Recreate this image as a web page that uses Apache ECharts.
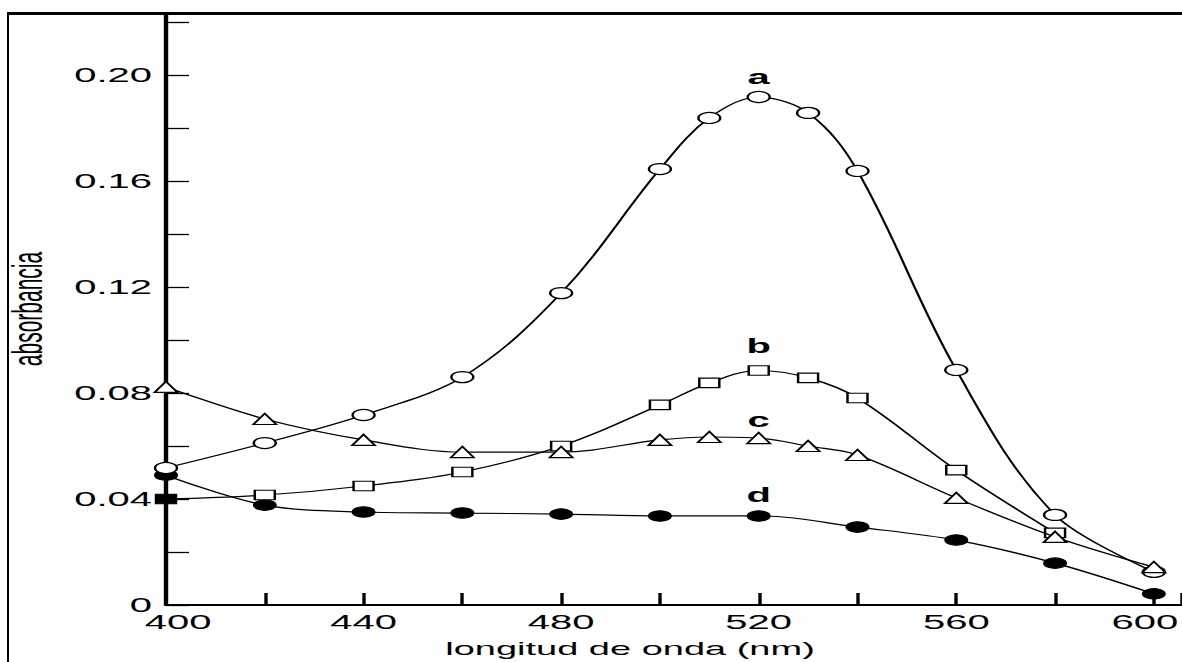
<!DOCTYPE html>
<html>
<head>
<meta charset="utf-8">
<script src="https://cdn.jsdelivr.net/npm/echarts@6/dist/echarts.min.js"></script>
<style>
  html, body { margin: 0; padding: 0; background: #fff; overflow: hidden; width: 1182px; height: 662px; }
  #frame { position: absolute; left: 7px; top: 12px; width: 1300px; height: 800px;
           border-left: 2px solid #000; border-top: 3px solid #000; box-sizing: border-box; }
  #chart { position: absolute; left: 0; top: 0; width: 591px; height: 662px;
           transform: scale(2, 1); transform-origin: 0 0; }
</style>
</head>
<body>
<div id="frame"></div>
<div id="chart"></div>
<script>
// Wavelengths (nm) for each curve
const xA = [400, 420, 440, 460, 480, 500, 510, 520, 530, 540, 560, 580, 600];
const xB = [400, 420, 440, 460, 480, 500, 510, 520, 530, 540, 560, 580];
const xC = [400, 420, 440, 460, 480, 500, 510, 520, 530, 540, 560, 580, 600];
const xD = [400, 420, 440, 460, 480, 500, 520, 540, 560, 580, 600];

// Absorbance values
const yA = [0.0517, 0.0611, 0.0717, 0.0860, 0.1177, 0.1645, 0.1838, 0.1917, 0.1857, 0.1638, 0.0887, 0.0340, 0.0125];
const yB = [0.0400, 0.0415, 0.0449, 0.0502, 0.0600, 0.0755, 0.0838, 0.0885, 0.0857, 0.0781, 0.0509, 0.0272];
const yC = [0.0823, 0.0702, 0.0623, 0.0577, 0.0577, 0.0623, 0.0634, 0.0630, 0.0600, 0.0566, 0.0404, 0.0257, 0.0143];
const yD = [0.0490, 0.0377, 0.0351, 0.0347, 0.0343, 0.0336, 0.0336, 0.0294, 0.0245, 0.0158, 0.0042];

const curveNames = ['a', 'b', 'c', 'd'];
const labelAt = 520;

const xName = 'longitud de onda (nm)';
const yName = 'absorbancia';

const font = 'Liberation Sans, Arial, Helvetica, sans-serif';

function build(xs, ys, name, labelDist, firstItemStyle) {
  return xs.map((x, i) => {
    const item = { value: [x, ys[i]] };
    if (x === labelAt) {
      item.label = {
        show: true, formatter: name, position: 'top', distance: labelDist,
        color: '#000', fontSize: 20, fontWeight: 'bold', fontFamily: font
      };
    }
    if (i === 0 && firstItemStyle) item.itemStyle = firstItemStyle;
    return item;
  });
}

const lineStyle = { color: '#000', width: 1.2 };
const openItem = { color: '#fff', borderColor: '#000', borderWidth: 1.2 };
const filledItem = { color: '#000', borderColor: '#000', borderWidth: 1 };

const xMin = 400;
const xLast = 600;

const chart = echarts.init(document.getElementById('chart'), null, { renderer: 'svg' });
chart.setOption({
  animation: false,
  backgroundColor: 'transparent',
  grid: { left: 83, right: 0, top: 13, bottom: 57, containLabel: false, outerBoundsMode: 'none' },
  xAxis: {
    type: 'value', min: xMin, max: 605.7, interval: 20,
    name: xName, nameLocation: 'middle', nameGap: 34,
    nameTextStyle: { color: '#000', fontSize: 19, fontFamily: font, padding: [0, 44, 0, 0] },
    axisLine: { show: true, onZero: false, lineStyle: { color: '#000', width: 2 } },
    axisTick: { show: true, inside: true, length: 12, lineStyle: { color: '#000', width: 1.7 } },
    axisLabel: {
      color: '#000', fontSize: 20, fontFamily: font, margin: 7, lineHeight: 20,
      formatter: v => {
        if (!(Number.isInteger(v) && v % 40 === 0)) return '';
        if (v === xMin) return '{first|' + v + '}';
        if (v === xLast) return '{last|' + v + '}';
        return String(v);
      },
      rich: {
        first: { color: '#000', fontSize: 20, fontFamily: font, padding: [0, 0, 0, 12] },
        last: { color: '#000', fontSize: 20, fontFamily: font, padding: [0, 9, 0, 0] }
      }
    },
    splitLine: { show: false }
  },
  yAxis: {
    type: 'value', min: 0, max: 0.2234, interval: 0.02,
    name: yName, nameLocation: 'middle', nameGap: 59, nameRotate: 90,
    nameTextStyle: { color: '#000', fontSize: 21, fontFamily: font },
    axisLine: { show: true, onZero: false, lineStyle: { color: '#000', width: 2.2 } },
    axisTick: { show: true, inside: true, length: 11.5, lineStyle: { color: '#000', width: 1.3 } },
    axisLabel: {
      color: '#000', fontSize: 20, fontFamily: font, margin: 7, lineHeight: 14,
      formatter: v => {
        if (Math.abs(v * 25 - Math.round(v * 25)) > 1e-6) return '';
        return v === 0 ? '0' : v.toFixed(2);
      }
    },
    splitLine: { show: false }
  },
  series: [
    { name: curveNames[0], type: 'line', smooth: 0.35, data: build(xA, yA, curveNames[0], 4),
      symbol: 'circle', symbolSize: [11, 11], lineStyle, itemStyle: openItem, z: 4 },
    { name: curveNames[1], type: 'line', smooth: 0.35,
      data: build(xB, yB, curveNames[1], 9, { color: '#000', borderColor: '#000' }),
      symbol: 'rect', symbolSize: [10, 9.5], lineStyle, itemStyle: openItem, z: 3 },
    { name: curveNames[2], type: 'line', smooth: 0.35, data: build(xC, yC, curveNames[2], 2),
      symbol: 'triangle', symbolSize: [11.5, 11], lineStyle, itemStyle: openItem, z: 5 },
    { name: curveNames[3], type: 'line', smooth: 0.35, data: build(xD, yD, curveNames[3], 5),
      symbol: 'circle', symbolSize: [11, 10.5], lineStyle, itemStyle: filledItem, z: 2 }
  ]
});
</script>
</body>
</html>
